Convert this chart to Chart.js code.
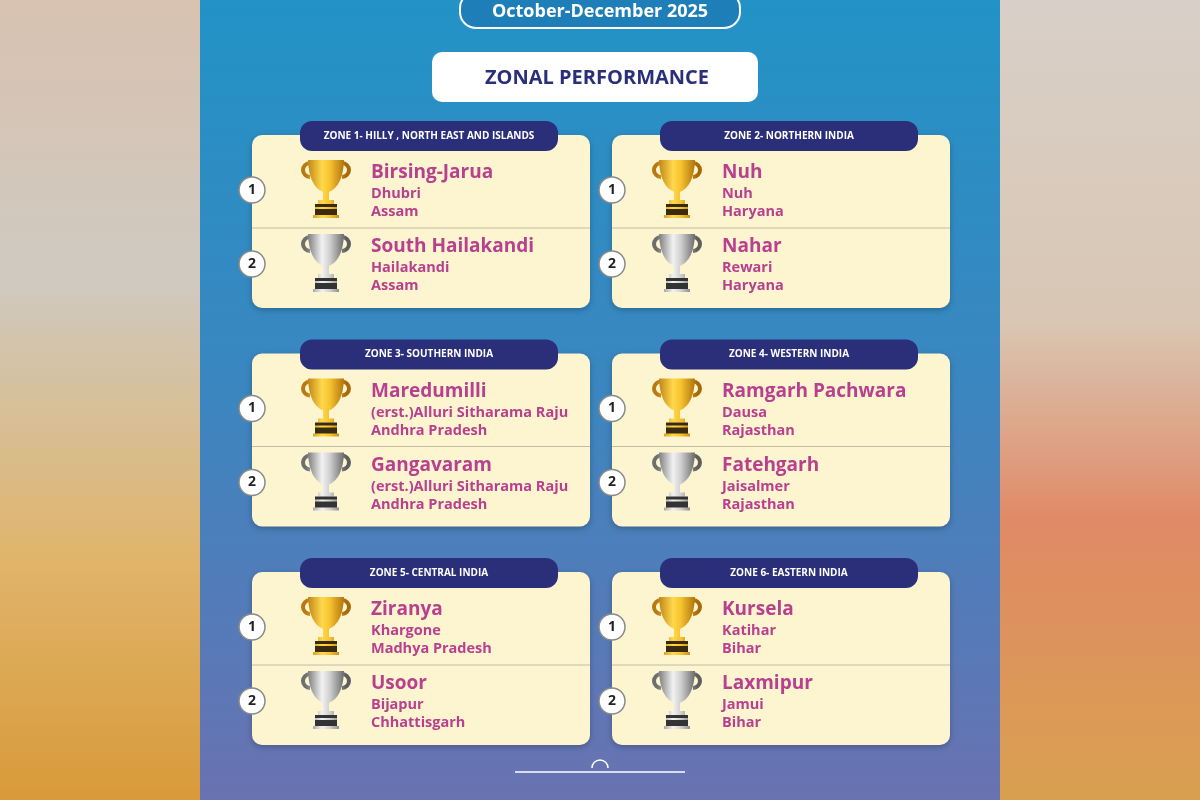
<!DOCTYPE html>
<html>
<head>
<meta charset="utf-8">
<script src="https://cdn.jsdelivr.net/npm/chart.js@4.4.0/dist/chart.umd.min.js"></script>
<style>
  html, body { margin: 0; padding: 0; width: 1200px; height: 800px; overflow: hidden; }
  #wrap { position: relative; width: 1200px; height: 800px; }
</style>
</head>
<body>
<div id="wrap"><canvas id="board" width="1200" height="800"></canvas></div>
<script>
// data
const period = 'October-December 2025';
const heading = 'ZONAL PERFORMANCE';
const zones = ['ZONE 1- HILLY , NORTH EAST AND ISLANDS', 'ZONE 2- NORTHERN INDIA', 'ZONE 3- SOUTHERN INDIA',
               'ZONE 4- WESTERN INDIA', 'ZONE 5- CENTRAL INDIA', 'ZONE 6- EASTERN INDIA'];
const zoneCol = [0, 1, 0, 1, 0, 1];
const zoneRow = [0, 0, 1, 1, 2, 2];
const firstBlock = ['Birsing-Jarua', 'Nuh', 'Maredumilli', 'Ramgarh Pachwara', 'Ziranya', 'Kursela'];
const firstDistrict = ['Dhubri', 'Nuh', '(erst.)Alluri Sitharama Raju', 'Dausa', 'Khargone', 'Katihar'];
const firstState = ['Assam', 'Haryana', 'Andhra Pradesh', 'Rajasthan', 'Madhya Pradesh', 'Bihar'];
const secondBlock = ['South Hailakandi', 'Nahar', 'Gangavaram', 'Fatehgarh', 'Usoor', 'Laxmipur'];
const secondDistrict = ['Hailakandi', 'Rewari', '(erst.)Alluri Sitharama Raju', 'Jaisalmer', 'Bijapur', 'Jamui'];
const secondState = ['Assam', 'Haryana', 'Andhra Pradesh', 'Rajasthan', 'Chhattisgarh', 'Bihar'];

const FONT = '"Open Sans", "DejaVu Sans", sans-serif';

function rr(ctx, x, y, w, h, r) {
    ctx.beginPath();
    ctx.moveTo(x + r, y);
    ctx.arcTo(x + w, y, x + w, y + h, r);
    ctx.arcTo(x + w, y + h, x, y + h, r);
    ctx.arcTo(x, y + h, x, y, r);
    ctx.arcTo(x, y, x + w, y, r);
    ctx.closePath();
}

function trophy(ctx, cx, top, gold) {
    const g = ctx.createLinearGradient(cx - 20, 0, cx + 20, 0);
    if (gold) {
        g.addColorStop(0, '#b87a10'); g.addColorStop(0.4, '#ffd84a'); g.addColorStop(0.6, '#f6c230'); g.addColorStop(1, '#a86a08');
    } else {
        g.addColorStop(0, '#6e6e6e'); g.addColorStop(0.4, '#f2f2f2'); g.addColorStop(0.6, '#cfcfcf'); g.addColorStop(1, '#5e5e5e');
    }
    ctx.save();
    ctx.strokeStyle = g; ctx.lineWidth = 4;
    ctx.beginPath(); ctx.arc(cx - 16, top + 10, 7, Math.PI * 0.5, Math.PI * 1.5); ctx.stroke();
    ctx.beginPath(); ctx.arc(cx + 16, top + 10, 7, -Math.PI * 0.5, Math.PI * 0.5); ctx.stroke();
    ctx.fillStyle = g;
    ctx.beginPath();
    ctx.moveTo(cx - 18, top);
    ctx.lineTo(cx + 18, top);
    ctx.quadraticCurveTo(cx + 17, top + 26, cx + 3, top + 32);
    ctx.lineTo(cx - 3, top + 32);
    ctx.quadraticCurveTo(cx - 17, top + 26, cx - 18, top);
    ctx.fill();
    ctx.fillRect(cx - 3, top + 31, 6, 10);
    ctx.fillRect(cx - 8, top + 40, 16, 4);
    ctx.fillStyle = gold ? '#3a2a10' : '#333';
    ctx.fillRect(cx - 11, top + 44, 22, 12);
    ctx.fillStyle = g;
    ctx.fillRect(cx - 11, top + 47, 22, 2);
    ctx.fillRect(cx - 13, top + 55, 26, 3);
    ctx.restore();
}

const boardPlugin = {
    id: 'board',
    beforeDraw(chart) {
        const ctx = chart.ctx;
        const l = ctx.createLinearGradient(0, 0, 0, 800);
        l.addColorStop(0, '#d8c2b0'); l.addColorStop(0.35, '#cfc9c0'); l.addColorStop(0.7, '#e0b46a'); l.addColorStop(1, '#d89a3a');
        ctx.fillStyle = l; ctx.fillRect(0, 0, 200, 800);
        const r = ctx.createLinearGradient(0, 0, 0, 800);
        r.addColorStop(0, '#d8cfc8'); r.addColorStop(0.4, '#d9c7b4'); r.addColorStop(0.65, '#e08a66'); r.addColorStop(1, '#d9a050');
        ctx.fillStyle = r; ctx.fillRect(1000, 0, 200, 800);
        const m = ctx.createLinearGradient(0, 0, 0, 800);
        m.addColorStop(0, '#2293c6'); m.addColorStop(0.5, '#3c86c0'); m.addColorStop(1, '#6a72b2');
        ctx.fillStyle = m; ctx.fillRect(200, 0, 800, 800);
        rr(ctx, 460, -8, 280, 36, 16);
        ctx.fillStyle = '#1e7fb8'; ctx.fill();
        ctx.strokeStyle = '#ffffff'; ctx.lineWidth = 2; ctx.stroke();
        ctx.fillStyle = '#ffffff'; ctx.font = 'bold 18px ' + FONT;
        ctx.textAlign = 'center'; ctx.textBaseline = 'middle';
        ctx.fillText(period, 600, 12);
        rr(ctx, 432, 52, 326, 50, 10);
        ctx.fillStyle = '#ffffff'; ctx.fill();
        ctx.fillStyle = '#2b2f7a'; ctx.font = 'bold 20px ' + FONT;
        ctx.fillText(heading, 597, 78);
        // ornament
        ctx.strokeStyle = '#ffffff'; ctx.lineWidth = 1.5;
        ctx.beginPath(); ctx.moveTo(515, 772); ctx.lineTo(685, 772); ctx.stroke();
        ctx.beginPath(); ctx.arc(600, 768, 8, Math.PI, 0); ctx.stroke();
    },
    afterDatasetsDraw(chart) {
        const ctx = chart.ctx;
        const meta = chart.getDatasetMeta(0);
        meta.data.forEach((pt, i) => {
            const cx = pt.x, top = pt.y;
            const x0 = cx - 169, w = 338, h = 173;
            const shift = zoneCol[i] === 1 ? -9 : 0;
            ctx.save();
            ctx.shadowColor = 'rgba(0,0,0,0.25)'; ctx.shadowBlur = 6; ctx.shadowOffsetY = 2;
            rr(ctx, x0, top, w, h, 10);
            ctx.fillStyle = '#fdf5cf'; ctx.fill();
            ctx.restore();
            ctx.strokeStyle = '#c9b9a6'; ctx.lineWidth = 1;
            ctx.beginPath(); ctx.moveTo(x0, top + 93); ctx.lineTo(x0 + w, top + 93); ctx.stroke();
            rr(ctx, cx - 121, top - 14, 258, 30, 12);
            ctx.fillStyle = '#2b2f7a'; ctx.fill();
            ctx.fillStyle = '#ffffff'; ctx.font = 'bold 10px ' + FONT;
            ctx.textAlign = 'center'; ctx.textBaseline = 'middle';
            ctx.fillText(zones[i], cx + 8, top + 1);
            const rows = [
                [firstBlock[i], firstDistrict[i], firstState[i], 1, top + 55],
                [secondBlock[i], secondDistrict[i], secondState[i], 2, top + 129]
            ];
            rows.forEach(([b, d, s, rank, my]) => {
                ctx.beginPath(); ctx.arc(x0, my, 13, 0, Math.PI * 2);
                ctx.fillStyle = '#ffffff'; ctx.fill();
                ctx.strokeStyle = '#8a8a8a'; ctx.lineWidth = 1.5; ctx.stroke();
                ctx.fillStyle = '#222'; ctx.font = 'bold 14px ' + FONT;
                ctx.textAlign = 'center'; ctx.fillText(String(rank), x0, my);
                trophy(ctx, x0 + 74 + shift, my - 30, rank === 1);
                ctx.textAlign = 'left'; ctx.fillStyle = '#b8408f';
                ctx.font = 'bold 19px ' + FONT;
                ctx.fillText(b, x0 + 119 + shift, my - 17);
                ctx.font = 'bold 14.5px ' + FONT;
                ctx.fillText(d, x0 + 119 + shift, my + 4);
                ctx.fillText(s, x0 + 119 + shift, my + 22);
            });
        });
    }
};

const points = zones.map((z, i) => ({ x: zoneCol[i], y: zoneRow[i] }));

new Chart(document.getElementById('board'), {
    type: 'scatter',
    data: { datasets: [{ data: points, pointRadius: 0 }] },
    options: {
        responsive: false,
        animation: false,
        layout: { padding: 0 },
        plugins: { legend: { display: false }, tooltip: { enabled: false } },
        scales: {
            x: { display: false, min: -421 / 360, max: -421 / 360 + 1200 / 360 },
            y: { display: false, reverse: true, min: -135 / 218.5, max: -135 / 218.5 + 800 / 218.5 }
        }
    },
    plugins: [boardPlugin]
});
</script>
</body>
</html>
